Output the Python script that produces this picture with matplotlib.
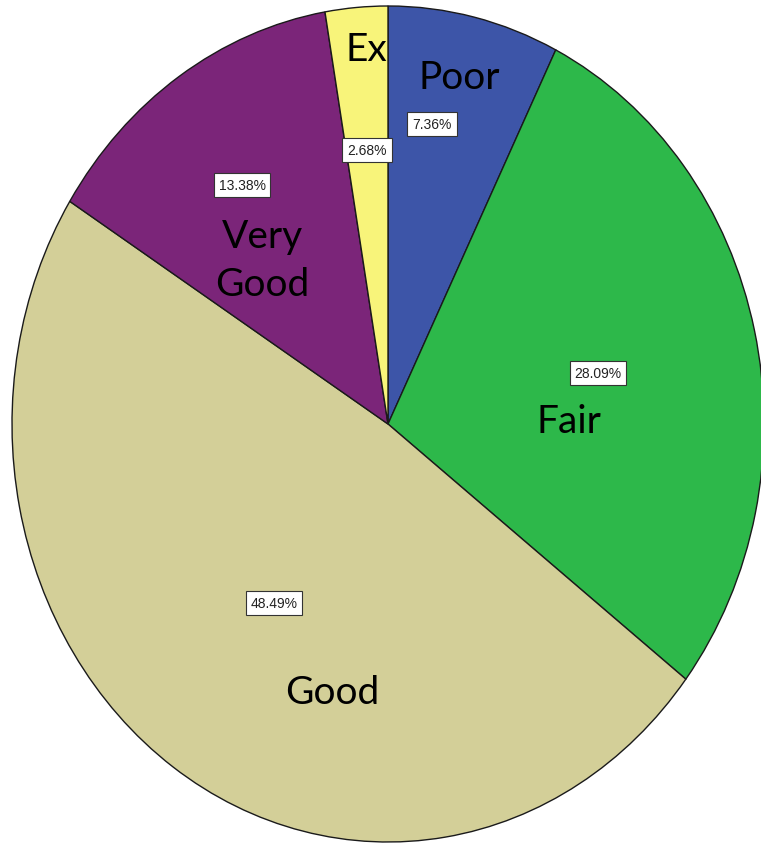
import numpy as np
import matplotlib.pyplot as plt

categories = ['Poor', 'Fair', 'Good', 'Very Good', 'Ex']
percents = [7.36, 28.09, 48.49, 13.38, 2.68]
names = ['Poor', 'Fair', 'Good', 'Very\nGood', 'Ex']
colors = ['#3d55a8', '#2db84a', '#d3cf98', '#7b2579', '#f8f47a']

# pie centre and half-axes in pixels (the pie is drawn stretched vertically)
W, H = 761, 845
cx, cy = 388, 425
rx, ry = 376, 418

# label spots, in pixels
pct_pos = [(432, 125), (598, 374), (274, 604), (242, 186), (367, 151)]
name_pos = [(459, 78), (569, 422), (332, 693), (262, 261), (366, 50)]

fig = plt.figure(figsize=(W / 100, H / 100), dpi=100)
ax = fig.add_axes([0, 0, 1, 1])

ax.pie(percents, colors=colors, startangle=90, counterclock=False,
       wedgeprops={'edgecolor': '#1a1a1a', 'linewidth': 1.0})
ax.set_aspect('auto')
ax.set_xlim(-cx / rx, (W - cx) / rx)
ax.set_ylim(-(H - cy) / ry, cy / ry)
ax.axis('off')


def to_data(p):
    return (p[0] - cx) / rx, (cy - p[1]) / ry


for p, pos in zip(percents, pct_pos):
    x, y = to_data(pos)
    ax.text(x, y, f'{p:.2f}%', ha='center', va='center', fontsize=10,
            family='Liberation Sans', color='#222222',
            bbox=dict(boxstyle='square,pad=0.35', fc='white', ec='#333333', lw=0.8))

for n, pos in zip(names, name_pos):
    x, y = to_data(pos)
    ax.text(x, y, n, ha='center', va='center', fontsize=28, family='Lato',
            color='black', linespacing=1.4)

fig.savefig('out.png', dpi=100)
